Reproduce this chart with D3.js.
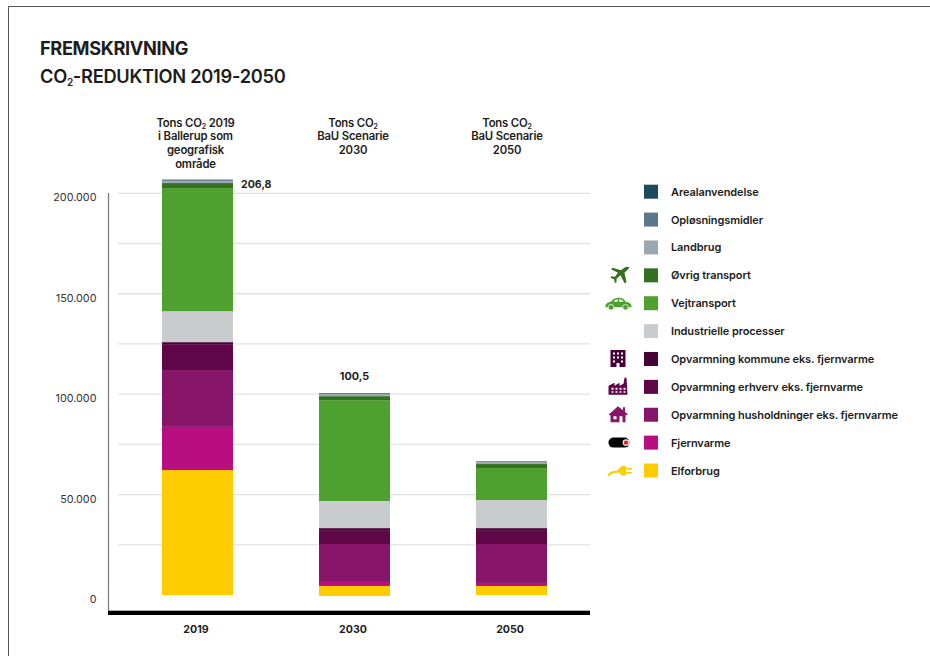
<!DOCTYPE html>
<html><head><meta charset="utf-8">
<script src="https://cdn.jsdelivr.net/npm/d3@7/dist/d3.min.js"></script>
<style>
html,body{margin:0;padding:0;background:#fff}
svg{display:block}
text{font-family:Inter,"Noto Sans",sans-serif;fill:#1d1d1b}
</style></head><body>
<svg id="c" width="930" height="656"></svg>
<script>
const years = ["2019","2030","2050"];
const totals = ["206,8","100,5",""];
const startOffset = [0,-500,0];
const seriesNames = ["Elforbrug","Fjernvarme","Opvarmning husholdninger eks. fjernvarme","Opvarmning erhverv eks. fjernvarme","Opvarmning kommune eks. fjernvarme","Industrielle processer","Vejtransport","Øvrig transport","Landbrug","Opløsningsmidler","Arealanvendelse"];
const seriesColors = ["#FFCC00","#B90E80","#87166B","#5E0648","#470338","#C8CCCE","#4EA12F","#33701F","#9BA8B2","#5A778C","#1C4A5F"];
const elforbrug = [62200,5000,4500];
const fjernvarme = [21500,2000,1500];
const husholdninger = [28300,18900,19400];
const erhverv = [12900,6900,6900];
const kommune = [1000,1000,1000];
const industri = [15400,13500,14000];
const vejtransport = [61300,50200,15900];
const oevrig = [2500,2000,2000];
const landbrug = [900,1000,1000];
const oploesning = [400,200,300];
const areal = [400,300,100];
const seriesValues = [elforbrug,fjernvarme,husholdninger,erhverv,kommune,industri,vejtransport,oevrig,landbrug,oploesning,areal];
const yTicks = [0,50000,100000,150000,200000];
const gridTicks = [25000,50000,75000,100000,125000,150000,175000,200000];
const headers = [["Tons CO|2| 2019","i Ballerup som","geografisk","område"],["Tons CO|2|","BaU Scenarie","2030"],["Tons CO|2|","BaU Scenarie","2050"]];
const legendIcons = [null,null,null,"plane","car",null,"office","factory","house","pipe","plug"];

const svg = d3.select("#c");
// frame
svg.append("path").attr("d","M8.5 656V6.5H930").attr("fill","none").attr("stroke","#555").attr("stroke-width",1);

// title
function subText(sel,str,subSize){
  str.split("|").forEach((p,i)=>{
    const t=sel.append("tspan").text(p);
    if(i===1) t.attr("font-size",subSize).attr("dy",subSize*0.3);
    if(i===2) t.attr("dy",-subSize*0.3);
  });
}
svg.append("text").attr("x",40).attr("y",54.5).attr("font-size",18.2).attr("font-weight",700).attr("letter-spacing",-0.35).text("FREMSKRIVNING");
subText(svg.append("text").attr("x",40).attr("y",82.5).attr("font-size",18.3).attr("font-weight",600).attr("letter-spacing",-0.3),"CO|2|-REDUKTION 2019-2050",10);

const y = d3.scaleLinear().domain([0,200000]).range([595,193.3]);
const x = d3.scaleBand().domain(years).range([162,547]).paddingInner(0.5478).paddingOuter(0);
const fmt = d3.formatLocale({decimal:",",thousands:".",grouping:[3],currency:["","" ]}).format(",d");

// grid
svg.append("g").selectAll("line").data(gridTicks).join("line")
  .attr("x1",118).attr("x2",590).attr("y1",d=>y(d)).attr("y2",d=>y(d))
  .attr("stroke","#e2e2e2").attr("stroke-width",1.3);

// y axis labels
const ya = svg.append("g").attr("transform","translate(96.5,4)")
  .call(d3.axisLeft(y).tickValues(yTicks).tickFormat(fmt).tickSize(0).tickPadding(0));
ya.select(".domain").remove();
ya.selectAll("text").attr("font-size",10.8).style("fill","#333").attr("font-family",null);

// axis lines
svg.append("line").attr("x1",108.5).attr("x2",108.5).attr("y1",193).attr("y2",611).attr("stroke","#777").attr("stroke-width",1.2);
svg.append("rect").attr("x",108).attr("y",610.7).attr("width",482).attr("height",4.3).attr("fill","#000");

// stacks
const rows = years.map((yr,i)=>{const o={year:yr};seriesNames.forEach((n,k)=>o[n]=seriesValues[k][i]);return o;});
const stacked = d3.stack().keys(seriesNames)(rows);
svg.append("g").selectAll("g").data(stacked).join("g").attr("fill",(d,i)=>seriesColors[i])
  .selectAll("rect").data(d=>d).join("rect")
  .attr("x",d=>x(d.data.year)).attr("width",x.bandwidth())
  .attr("y",(d,i)=>y(d[1]+startOffset[i]))
  .attr("height",d=>y(d[0])-y(d[1]));

// x labels
const xa = svg.append("g").attr("transform","translate(-1.5,622)")
  .call(d3.axisBottom(x).tickSize(0).tickPadding(3));
xa.select(".domain").remove();
xa.selectAll("text").attr("font-size",10.6).attr("font-weight",700).attr("font-family",null);

// headers
const headerX = [195.5,353,507];
const headerTop = [123,123,123];
headers.forEach((lines,i)=>{
  lines.forEach((l,j)=>{
    subText(svg.append("text").attr("x",headerX[i]).attr("y",headerTop[i]+j*13.6+3.8)
      .attr("text-anchor","middle").attr("font-size",11.3).attr("font-weight",600).attr("letter-spacing",-0.15),l,7);
  });
});

// totals
svg.append("text").attr("x",241).attr("y",188).attr("font-size",10.6).attr("font-weight",700).text(totals[0]);
svg.append("text").attr("x",x("2030")+x.bandwidth()/2).attr("y",380).attr("text-anchor","middle").attr("font-size",10.8).attr("font-weight",700).text(totals[1]);

// legend (top to bottom)
const iconDraw = {
  plane(g){g.append("path").attr("fill","#33701F").attr("d","M8.5 -8.5 L9.5 -7.5 L4.5 -2.5 L6.5 7 L4.5 8 L0.5 0 L-3.5 3.5 L-3.5 7 L-5 8 L-6 4 L-9.5 2.5 L-8.5 1 L-5 1.5 L-2 -2.5 L-9 -6 L-7.5 -7.5 L1 -5 L5 -8 Z");},
  car(g){g.append("path").attr("fill","#4EA12F").attr("fill-rule","evenodd").attr("d","M-13 3 C-13 -1 -9 -1 -7 -2 C-5 -5 -3 -5.5 0 -5.5 C4 -5.5 6 -4 7 -1.5 C10 -1 13 0 13 3 L13 4 L-13 4 Z M-4.5 -1.5 L-1 -1.5 L-1 -4 C-3 -4 -4 -3 -4.5 -1.5 Z M0.5 -1.5 L5 -1.5 C4.5 -3 3 -4 0.5 -4 Z");
    [-7.5,7].forEach(c=>g.append("circle").attr("cx",c).attr("cy",4).attr("r",2.8).attr("fill","#4EA12F").attr("stroke","#fff").attr("stroke-width",0.7));},
  office(g){g.append("path").attr("fill","#470338").attr("fill-rule","evenodd").attr("d","M-7.5 -9 H7.5 V8 H-7.5 Z M-5 -6.5 V-4.5 H-3 V-6.5 Z M-1 -6.5 V-4.5 H1 V-6.5 Z M3 -6.5 V-4.5 H5 V-6.5 Z M-5 -2.5 V-0.5 H-3 V-2.5 Z M-1 -2.5 V-0.5 H1 V-2.5 Z M3 -2.5 V-0.5 H5 V-2.5 Z M-5 1.5 V3.5 H-3 V1.5 Z M3 1.5 V3.5 H5 V1.5 Z M-1.5 4 V8 H1.5 V4 Z");},
  factory(g){g.append("path").attr("fill","#5E0648").attr("fill-rule","evenodd").attr("d","M-10 8 V-1 L-4 -4 V-1 L1 -4 V-1 L5 -3 L6 -9 L8 -9 L9 8 Z M-7 1 V3 H-5 V1 Z M-3 1 V3 H-1 V1 Z M1 1 V3 H3 V1 Z M5 1 V3 H7 V1 Z M-7 4.5 V6 H-5 V4.5 Z M-3 4.5 V6 H-1 V4.5 Z M1 4.5 V6 H3 V4.5 Z M5 4.5 V6 H7 V4.5 Z");},
  house(g){g.append("path").attr("fill","#87166B").attr("fill-rule","evenodd").attr("d","M0 -8.5 L5 -4.5 V-7.5 H7 V-3 L10 0 L7.5 0.5 V7.5 H-7.5 V0.5 L-9.5 0 Z M-4.5 1.5 V4.5 H-1.5 V1.5 Z M1.5 1.5 V7.5 H4.5 V1.5 Z");},
  pipe(g){g.append("rect").attr("x",-9.5).attr("y",-5).attr("width",21).attr("height",10).attr("rx",5).attr("fill","#000");
    g.append("circle").attr("cx",8).attr("cy",0).attr("r",3.4).attr("fill","#eee");
    g.append("circle").attr("cx",8).attr("cy",0).attr("r",2.2).attr("fill","#D8232A");},
  plug(g){g.append("path").attr("fill","none").attr("stroke","#FFCC00").attr("stroke-width",2).attr("d","M-13 5 C-9 1 -6 1 -2 1");
    g.append("path").attr("fill","#FFCC00").attr("d","M-4 0 L1 -4.5 H5 V-2.5 H11 V-1 H5 V1.5 H11 V3 H5 V5 H1 Z");}
};
const iconX = {plane:620,car:618.5,office:618,factory:618.5,house:618,pipe:618,plug:621};
const legendOrder = d3.range(seriesNames.length).reverse();
const legY = d3.scalePoint().domain(legendOrder).range([191.7,470.5]);
const leg = svg.append("g").selectAll("g").data(legendOrder).join("g").attr("transform",d=>`translate(0,${legY(d)})`);
leg.append("rect").attr("x",644).attr("y",-7).attr("width",14).attr("height",14).attr("fill",d=>seriesColors[d]);
leg.append("text").attr("x",671).attr("y",4).attr("font-size",11).attr("font-weight",600).attr("letter-spacing",-0.1).text(d=>seriesNames[d]);
leg.each(function(d){
  const k=legendIcons[seriesNames.length-1-d];
  if(k){const g=d3.select(this).append("g").attr("transform",`translate(${iconX[k]},0)`);iconDraw[k](g);}
});
</script>
</body></html>
